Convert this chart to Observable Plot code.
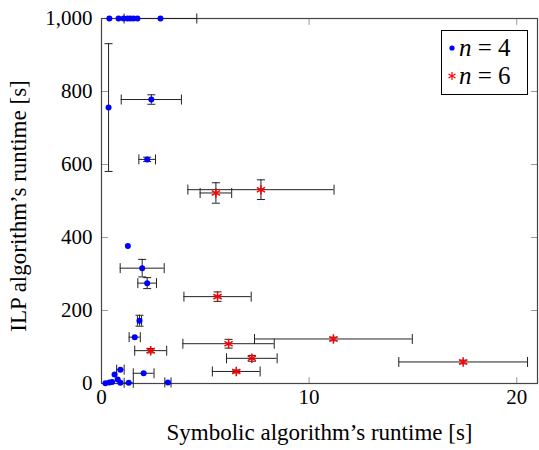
<!DOCTYPE html>
<html>
<head>
<meta charset="utf-8">
<script src="https://cdn.jsdelivr.net/npm/d3@7"></script>
<script src="https://cdn.jsdelivr.net/npm/@observablehq/plot@0.6"></script>
<style>
  html, body { margin: 0; padding: 0; background: #fff; }
  #wrap { position: relative; width: 539px; height: 450px; }
  #legend { position: absolute; left: 441px; top: 30px; }
</style>
</head>
<body>
<div id="wrap"></div>
<script>
// ---- data ----
const n4X    = [0.38, 0.82, 1.06, 1.25, 1.39, 1.54, 1.73, 2.84, 0.34, 2.4, 2.2, 1.27, 1.96, 2.2, 1.83, 1.6, 0.91, 0.63, 2.03, 0.78, 0.91, 0.19, 0.38, 0.51, 1.31, 3.2];
const n4Y    = [1000, 1000, 1000, 1000, 1000, 1000, 1000, 1000, 756, 778, 614, 377, 316, 275, 172, 127, 38, 25, 28, 11, 2, 1, 3, 4, 2, 3];
const n4XErr = [0, 0, 0, 0, 0, 0, 0, 1.75, 0, 1.45, 0.4, 0, 1.06, 0.45, 0.1, 0.27, 0.18, 0, 0.5, 0, 0, 0, 0, 0, 0.22, 0.15];
const n4YErr = [0, 0, 0, 0, 0, 0, 0, 0, 175, 13, 6, 0, 24, 15, 15, 0, 0, 0, 0, 0, 0, 0, 0, 0, 0, 0];

const n6X    = [2.37, 5.51, 7.68, 5.59, 6.12, 11.17, 7.24, 6.49, 17.42];
const n6Y    = [90, 522, 531, 238, 109, 122, 69, 33, 59];
const n6XErr = [0.77, 0.76, 3.52, 1.62, 2.2, 3.8, 1.22, 1.15, 3.1];
const n6YErr = [6, 28, 27, 13, 12, 5, 8, 4, 5];

const xTicks = [0, 10, 20];
const yTicks = [0, 200, 400, 600, 800, 1000];
const xLabel = "Symbolic algorithm’s runtime [s]";
const yLabel = "ILP algorithm’s runtime [s]";
const seriesNames = ["n = 4", "n = 6"];

// ---- build tables ----
const n4 = n4X.map((x, i) => ({x, y: n4Y[i], xe: n4XErr[i], ye: n4YErr[i]}));
const n6 = n6X.map((x, i) => ({x, y: n6Y[i], xe: n6XErr[i], ye: n6YErr[i]}));
const all = n4.concat(n6);
const withX = all.filter(d => d.xe > 0);
const withY = all.filter(d => d.ye > 0);

const vCap = {draw(ctx, size) { const h = Math.sqrt(size / Math.PI); ctx.moveTo(0, -h); ctx.lineTo(0, h); }};
const hCap = {draw(ctx, size) { const h = Math.sqrt(size / Math.PI); ctx.moveTo(-h, 0); ctx.lineTo(h, 0); }};
const tickShape = {draw(ctx, l) { ctx.moveTo(0, 0); ctx.lineTo(0, -l); }};

const errStroke = "#222";
const tickStroke = "#999";
const serif = "'Liberation Serif', 'Times New Roman', serif";

const chart = Plot.plot({
  width: 539,
  height: 450,
  marginLeft: 101,
  marginRight: 2,
  marginTop: 18,
  marginBottom: 67,
  style: {fontFamily: serif, fontSize: "21px", color: "#000", background: "#fff"},
  x: {domain: [0, 21]},
  y: {domain: [0, 1000]},
  marks: [
    // inward ticks on all four sides
    Plot.vector(xTicks, {x: d => d, frameAnchor: "bottom", length: 6, anchor: "start", rotate: 0, shape: tickShape, stroke: tickStroke, strokeWidth: 1}),
    Plot.vector(xTicks, {x: d => d, frameAnchor: "top", length: 6, anchor: "start", rotate: 180, shape: tickShape, stroke: tickStroke, strokeWidth: 1}),
    Plot.vector(yTicks, {y: d => d, frameAnchor: "left", length: 6, anchor: "start", rotate: 90, shape: tickShape, stroke: tickStroke, strokeWidth: 1}),
    Plot.vector(yTicks, {y: d => d, frameAnchor: "right", length: 6, anchor: "start", rotate: -90, shape: tickShape, stroke: tickStroke, strokeWidth: 1}),
    Plot.frame({stroke: "#444", strokeWidth: 1.2}),
    Plot.axisX({ticks: xTicks, tickSize: 0, tickPadding: 6, tickFormat: d3.format(","), label: null, fontFamily: serif}),
    Plot.axisY({ticks: yTicks, tickSize: 0, tickPadding: 9, tickFormat: d3.format(","), label: null, fontFamily: serif}),
    // error bars
    Plot.ruleY(withX, {y: "y", x1: d => d.x - d.xe, x2: d => d.x + d.xe, stroke: errStroke, strokeWidth: 1}),
    Plot.dot(withX, {x: d => d.x - d.xe, y: "y", symbol: vCap, r: 5, stroke: errStroke, strokeWidth: 1, fill: "none"}),
    Plot.dot(withX, {x: d => d.x + d.xe, y: "y", symbol: vCap, r: 5, stroke: errStroke, strokeWidth: 1, fill: "none"}),
    Plot.ruleX(withY, {x: "x", y1: d => d.y - d.ye, y2: d => d.y + d.ye, stroke: errStroke, strokeWidth: 1}),
    Plot.dot(withY, {x: "x", y: d => d.y - d.ye, symbol: hCap, r: 4, stroke: errStroke, strokeWidth: 1, fill: "none"}),
    Plot.dot(withY, {x: "x", y: d => d.y + d.ye, symbol: hCap, r: 4, stroke: errStroke, strokeWidth: 1, fill: "none"}),
    // markers
    Plot.dot(n4, {x: "x", y: "y", r: 3, fill: "#0000ff", stroke: "none", symbol: "circle"}),
    Plot.dot(n6, {x: "x", y: "y", r: 4.5, stroke: "#ff0000", strokeWidth: 1.5, fill: "none", symbol: "asterisk"}),
    // axis titles
    Plot.text([xLabel], {text: d => d, frameAnchor: "bottom", textAnchor: "middle", dy: 56, fontSize: 23, fontFamily: serif}),
    Plot.text([yLabel], {text: d => d, frameAnchor: "left", textAnchor: "middle", dx: -83, dy: 5, rotate: -90, fontSize: 23, fontFamily: serif})
  ]
});

const wrap = document.getElementById("wrap");
wrap.appendChild(chart);

// ---- legend ----
const lg = d3.select(wrap).append("svg").attr("id", "legend")
  .attr("width", 87).attr("height", 65)
  .attr("font-family", serif);
lg.append("rect").attr("x", 0.5).attr("y", 0.5).attr("width", 86).attr("height", 64)
  .attr("fill", "#fff").attr("stroke", "#000").attr("stroke-width", 1);
const rows = [
  {y: 18, color: "#0000ff", sym: "dot"},
  {y: 46, color: "#ff0000", sym: "ast"}
];
rows.forEach((r, i) => {
  if (r.sym === "dot") {
    lg.append("circle").attr("cx", 11).attr("cy", r.y).attr("r", 2.6).attr("fill", r.color);
  } else {
    lg.append("path").attr("d", d3.symbol(d3.symbolAsterisk, 45)())
      .attr("transform", `translate(11,${r.y})`)
      .attr("fill", "none").attr("stroke", r.color).attr("stroke-width", 1.2);
  }
  const parts = seriesNames[i].split(" ");
  const t = lg.append("text").attr("x", 18).attr("y", r.y + 8).attr("font-size", 25);
  t.append("tspan").attr("font-style", "italic").text(parts[0]);
  t.append("tspan").text(" " + parts.slice(1).join(" "));
});
</script>
</body>
</html>
